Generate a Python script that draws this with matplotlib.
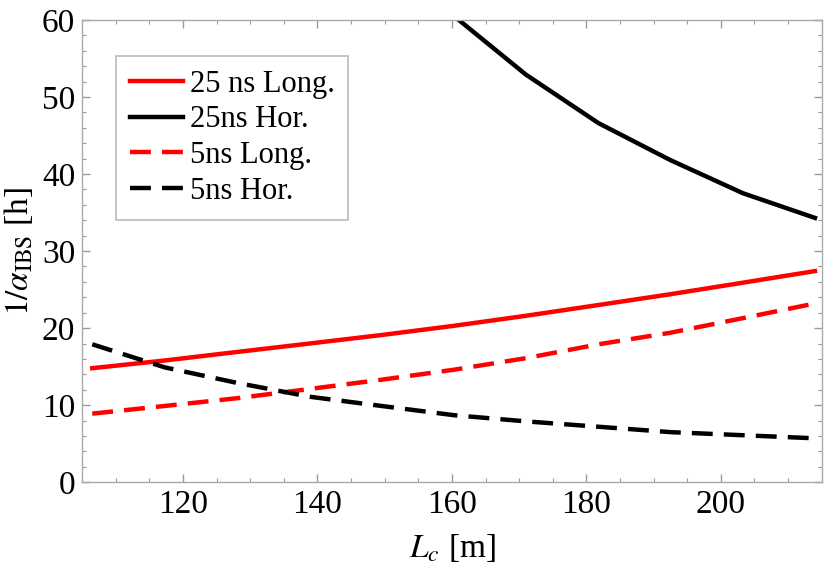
import numpy as np
import matplotlib
matplotlib.use('Agg')
import matplotlib.pyplot as plt
from matplotlib.ticker import MultipleLocator

plt.rcParams['font.family'] = ['Liberation Serif', 'DejaVu Serif']
plt.rcParams['mathtext.fontset'] = 'stix'

# circumference values (m)
Lc = [106.5, 117.3, 128, 138.8, 149.5, 160.3, 171, 181.8, 192.5, 203.3, 214]

long25 = [14.8, 15.8, 16.9, 18.0, 19.1, 20.3, 21.6, 23.0, 24.4, 25.9, 27.4]
hor25 = [130, 110, 94, 81, 70, 60.5, 52.9, 46.6, 41.8, 37.5, 34.3]
long5 = [8.9, 9.9, 10.9, 12.1, 13.3, 14.6, 16.1, 17.9, 19.4, 21.3, 23.2]
hor5 = [17.9, 14.9, 12.9, 11.1, 9.9, 8.7, 7.9, 7.2, 6.5, 6.1, 5.7]

fig = plt.figure(figsize=(8.3, 5.68), dpi=100)
ax = fig.add_axes([0.099, 0.151, 0.891, 0.814])

dash = (0, (4.7, 2.5))
ax.plot(Lc, long25, color='red', lw=3.2, label='25 ns Long.')
ax.plot(Lc, hor25, color='black', lw=3.2, label='25ns Hor.')
ax.plot(Lc, long5, color='red', lw=3.2, ls=dash, label='5ns Long.')
ax.plot(Lc, hor5, color='black', lw=3.2, ls=dash, label='5ns Hor.')

ax.set_xlim(105, 215)
ax.set_ylim(0, 60)
ax.xaxis.set_major_locator(MultipleLocator(20))
ax.xaxis.set_minor_locator(MultipleLocator(5))
ax.yaxis.set_major_locator(MultipleLocator(10))
ax.yaxis.set_minor_locator(MultipleLocator(2))

for s in ax.spines.values():
    s.set_color('#aaaaaa')
    s.set_linewidth(1)
ax.tick_params(which='both', direction='in', top=True, right=True, color='#999999', labelsize=24)
ax.tick_params(which='major', length=6, width=1, pad=5)
ax.tick_params(which='minor', length=3, width=0.8)

ax.set_xlabel(r'$L_c$ [m]', fontsize=24, labelpad=9)
ax.set_ylabel(r'$1/\alpha_{\rm IBS}$ [h]', fontsize=24, labelpad=5)

leg = ax.legend(loc='upper left', bbox_to_anchor=(0.046, 0.922), borderaxespad=0,
                fontsize=22, handlelength=1.75, handletextpad=0.2, labelspacing=0.22,
                fancybox=False, frameon=True, borderpad=0.45)
leg.get_frame().set_edgecolor('#aaaaaa')
leg.get_frame().set_linewidth(1.2)

plt.savefig('out.png', dpi=100)
